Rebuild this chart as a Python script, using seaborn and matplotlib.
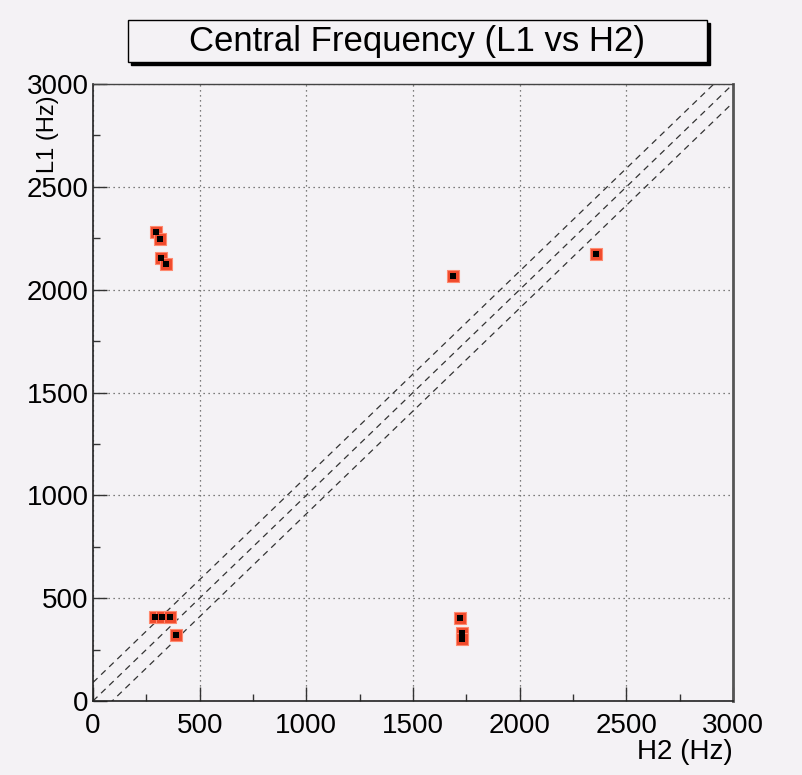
import numpy as np
import pandas as pd
import seaborn as sns
import matplotlib
matplotlib.use("Agg")
import matplotlib.pyplot as plt
from matplotlib.patches import Rectangle
from matplotlib.ticker import MultipleLocator

# Data
h2 = [295, 314, 319, 342, 291, 323, 361, 389, 1687, 1720, 1729, 1729, 2357]
l1 = [2281, 2247, 2155, 2125, 409, 409, 409, 321, 2067, 404, 330, 300, 2174]
diag_offsets = [90, 0, -90]
ticks = [0, 500, 1000, 1500, 2000, 2500, 3000]

df = pd.DataFrame({"H2": h2, "L1": l1})

sns.set_theme(style="white")
plt.rcParams['font.family'] = ['Liberation Sans', 'DejaVu Sans']
plt.rcParams['text.color'] = 'black'
plt.rcParams['axes.labelcolor'] = 'black'
plt.rcParams['xtick.color'] = 'black'
plt.rcParams['ytick.color'] = 'black'
bg = "#f4f2f5"

fig = plt.figure(figsize=(8.03, 7.75), dpi=100, facecolor=bg)
ax = fig.add_axes([0.1158, 0.0955, 0.797, 0.796])
ax.set_facecolor(bg)

# diagonal dashed lines
xs = np.array([0, 3000])
for off in diag_offsets:
    ax.plot(xs, xs + off, ls=(0, (5, 4)), color="#333333", lw=0.9, zorder=2)

sns.scatterplot(data=df, x="H2", y="L1", marker="s", s=85, color="#f04a2c",
                edgecolor="#ff8a70", linewidth=0.8, ax=ax, zorder=3)
sns.scatterplot(data=df, x="H2", y="L1", marker="s", s=22, color="black",
                edgecolor="black", linewidth=0, ax=ax, zorder=4)

ax.set_xlim(0, 3000)
ax.set_ylim(0, 3000)
ax.set_xticks(ticks)
ax.set_yticks(ticks)
ax.xaxis.set_minor_locator(MultipleLocator(250))
ax.yaxis.set_minor_locator(MultipleLocator(250))
ax.tick_params(which="major", direction="in", length=10, width=1, color="#333333",
               labelsize=20, bottom=True, left=True, top=False, right=False)
ax.tick_params(axis="x", which="major", pad=9)
ax.tick_params(axis="y", which="major", pad=3)
ax.tick_params(which="minor", direction="in", length=5, width=1, color="#333333",
               bottom=True, left=True, top=False, right=False)
ax.grid(True, which="major", ls=(0, (1, 3)), color="#555555", lw=0.9)
ax.set_axisbelow(True)

for s in ["left", "bottom"]:
    ax.spines[s].set_color("#222222")
    ax.spines[s].set_linewidth(1.2)
ax.spines["top"].set_color("#444444")
ax.spines["top"].set_linewidth(1.0)
ax.spines["right"].set_color("#555555")
ax.spines["right"].set_linewidth(2.0)

ax.set_xlabel("H2 (Hz)", fontsize=20, ha="right")
ax.xaxis.set_label_coords(1.0, -0.062)
ax.set_ylabel("L1 (Hz)", fontsize=17, ha="center", va="center")
ax.yaxis.set_label_coords(-0.07, 0.918)

# title box with shadow
bx0, by0, bw, bh = 128 / 803, 1 - 62 / 775, (707 - 128) / 803, (62 - 20) / 775
fig.patches.append(Rectangle((bx0 + 3 / 803, by0 - 3 / 775), bw, bh, transform=fig.transFigure,
                             facecolor="black", edgecolor="black", zorder=1))
fig.patches.append(Rectangle((bx0, by0), bw, bh, transform=fig.transFigure,
                             facecolor=bg, edgecolor="black", lw=1.0, zorder=2))
fig.text(bx0 + bw / 2, by0 + bh / 2, "Central Frequency (L1 vs H2)", ha="center",
         va="center", fontsize=25, zorder=3)

fig.savefig("out.png", dpi=100, facecolor=bg)
